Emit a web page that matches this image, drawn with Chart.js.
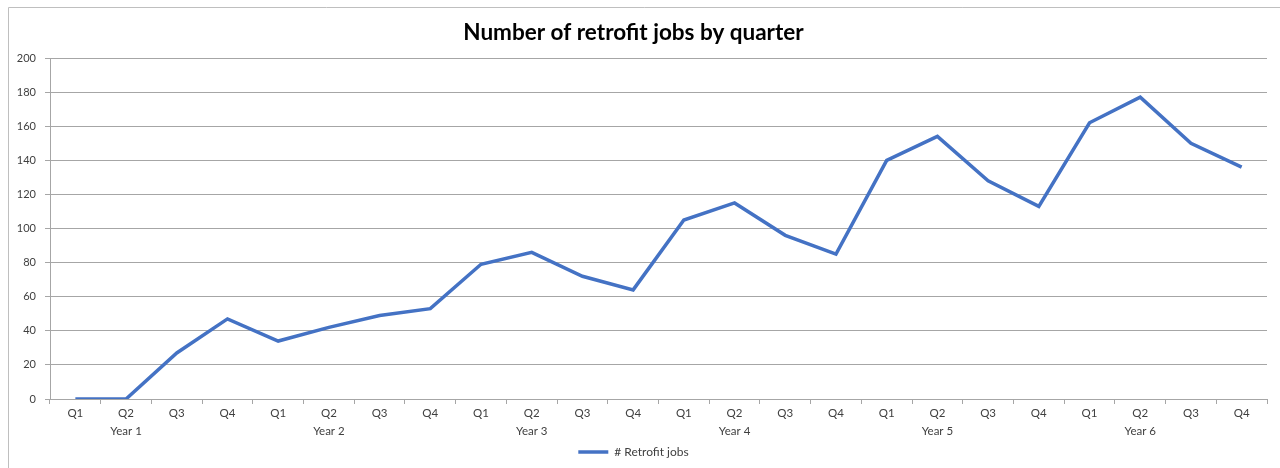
<!DOCTYPE html>
<html>
<head>
<meta charset="utf-8">
<script src="https://cdn.jsdelivr.net/npm/chart.js@4/dist/chart.umd.min.js"></script>
<style>
  html, body { margin: 0; padding: 0; background: #fff; }
  #wrap { width: 1280px; height: 468px; }
</style>
</head>
<body>
<div id="wrap"><canvas id="retrofit" width="1280" height="468"></canvas></div>
<script>
const years = ['Year 1', 'Year 2', 'Year 3', 'Year 4', 'Year 5', 'Year 6'];
const quarters = ['Q1', 'Q2', 'Q3', 'Q4'];
const retrofitJobs = [
    0, 0, 27, 47,
    34, 42, 49, 53,
    79, 86, 72, 64,
    105, 115, 96, 85,
    140, 154, 128, 113,
    162, 177, 150, 136
];

// Q2 of each year carries the year label underneath
const labels = years.flatMap(y => quarters.map(q => q === 'Q2' ? [q, y] : q));

const frame = {
    id: 'frame',
    beforeDraw(chart) {
        const c = chart.ctx;
        c.save();
        c.fillStyle = '#fff';
        c.fillRect(0, 0, chart.width, chart.height);
        c.strokeStyle = '#bfbfbf';
        c.lineWidth = 1;
        c.beginPath();
        c.moveTo(8.5, 468);
        c.lineTo(8.5, 7.5);
        c.lineTo(1280, 7.5);
        c.stroke();
        c.restore();
    }
};

const ctx = document.getElementById('retrofit');

const retrofitChart = new Chart(ctx, {
    type: 'line',
    data: {
        labels: labels,
        datasets: [{
            label: '# Retrofit jobs',
            data: retrofitJobs,
            borderColor: '#4472C4',
            backgroundColor: '#4472C4',
            borderWidth: 3.5,
            pointRadius: 0,
            tension: 0,
            fill: false
        }]
    },
    options: {
        responsive: false,
        animation: false,
        layout: { padding: { left: 0, right: 13, top: 0, bottom: 0 } },
        plugins: {
            title: {
                display: true,
                text: 'Number of retrofit jobs by quarter',
                color: '#000',
                font: { family: 'Lato', size: 22.5, weight: 'bold', lineHeight: 1.2 },
                padding: { top: 19, bottom: 12 }
            },
            legend: {
                position: 'bottom',
                labels: {
                    usePointStyle: true,
                    pointStyle: 'line',
                    pointStyleWidth: 30,
                    boxWidth: 30,
                    boxHeight: 4,
                    color: '#404040',
                    font: { family: 'Lato', size: 12 },
                    padding: 7
                }
            },
            tooltip: { enabled: false }
        },
        scales: {
            x: {
                offset: true,
                afterFit(scale) { scale.height = 40; },
                grid: {
                    offset: true,
                    drawOnChartArea: false,
                    drawTicks: true,
                    tickLength: 5,
                    color: '#a6a6a6'
                },
                border: { display: true, color: '#a6a6a6' },
                ticks: {
                    maxRotation: 0,
                    autoSkip: false,
                    padding: 0,
                    color: '#404040',
                    font: { family: 'Lato', size: 11.5, lineHeight: 1.6 }
                }
            },
            y: {
                min: 0,
                max: 200,
                afterFit(scale) { scale.width = 50; },
                grid: {
                    color: '#a6a6a6',
                    drawTicks: true,
                    tickLength: 5
                },
                border: { display: true, color: '#a6a6a6' },
                ticks: {
                    stepSize: 20,
                    padding: 9,
                    color: '#404040',
                    font: { family: 'Lato', size: 11 }
                }
            }
        }
    },
    plugins: [frame]
});
</script>
</body>
</html>
